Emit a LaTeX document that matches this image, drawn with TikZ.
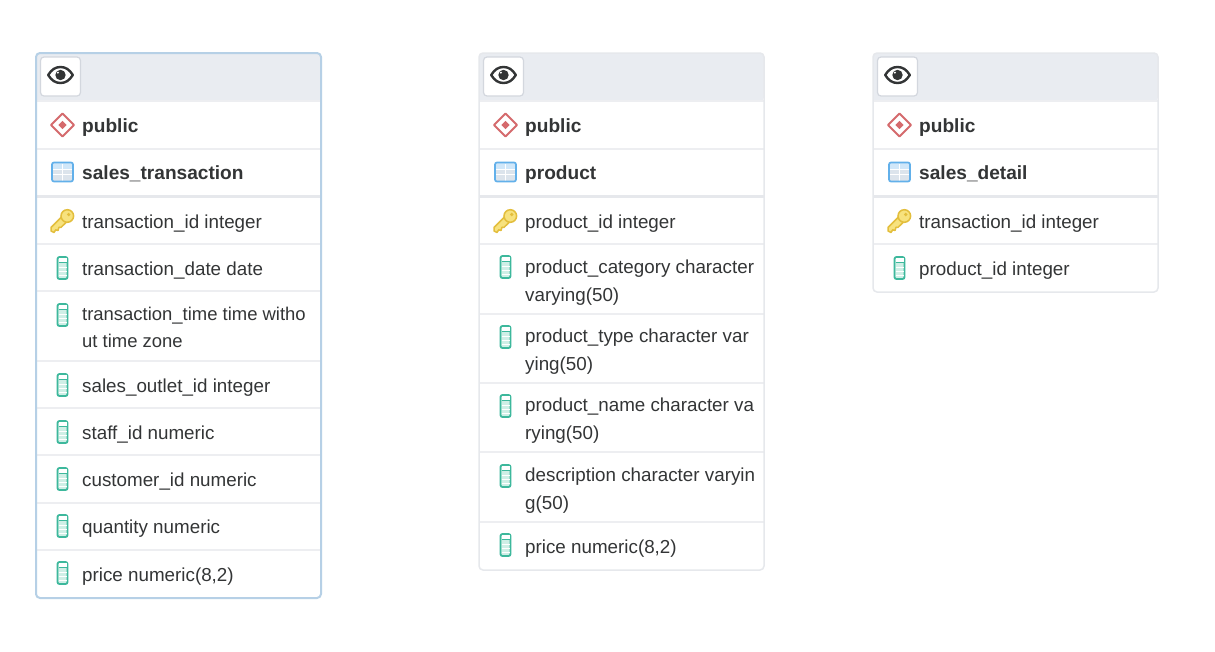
\documentclass[tikz,border=0pt]{standalone}
\usepackage{fontspec}
\setmainfont{Liberation Sans}
\definecolor{headfill}{HTML}{E9ECF1}
\definecolor{rowline}{HTML}{EDEEF1}
\definecolor{thickline}{HTML}{E6E8EC}
\definecolor{selblue}{HTML}{B6D0E6}
\definecolor{plainb}{HTML}{E6E8EC}
\definecolor{btnb}{HTML}{D3D7DE}
\definecolor{ink}{HTML}{333536}
\definecolor{schemared}{HTML}{D56A6D}
\definecolor{tabblue}{HTML}{62B0EA}
\definecolor{tabfill}{HTML}{DCE4EC}
\definecolor{keyfill}{HTML}{F7E27E}
\definecolor{keyline}{HTML}{E3BE3C}
\definecolor{colgreen}{HTML}{3DB89C}
\definecolor{colfill}{HTML}{CFEFE6}
\tikzset{
  x=1pt,y=-1pt,
  tablebox/.style={draw=plainb,line width=1.5pt,rounded corners=4pt,minimum width=285pt,inner sep=0pt,outer sep=0pt,anchor=north west},
  selbox/.style={tablebox,draw=selblue,line width=2pt},
  rowtext/.style={anchor=base west,inner sep=0pt,text=ink,align=left,font=\fontsize{18.8}{27.5}\selectfont},
  tighttext/.style={rowtext,font=\fontsize{18.45}{27.5}\selectfont},
  headtext/.style={rowtext,font=\fontsize{19.1}{27.5}\selectfont\bfseries},
  sep/.style={draw=rowline,line width=2pt},
  thicksep/.style={draw=thickline,line width=3pt},
  eyebtn/.style={draw=btnb,fill=white,line width=1.2pt,rounded corners=3.5pt,minimum width=40pt,minimum height=39pt,inner sep=0pt,outer sep=0pt},
  pics/eye/.style={code={
    \draw[ink,line width=2.4pt,fill=white,line join=round] (-12.3,0) .. controls (-9,-5.5) and (-5,-8) .. (0,-8) .. controls (5,-8) and (9,-5.5) .. (12.3,0) .. controls (9,5.5) and (5,8) .. (0,8) .. controls (-5,8) and (-9,5.5) .. (-12.3,0) -- cycle;
    \fill[ink] (0,0) circle (5.2);
    \fill[white] (-2.6,-2.4) circle (1.1);
  }},
  pics/schemaicon/.style={code={
    \draw[schemared,line width=1.8pt,fill=white,line join=round] (0,-11.5) -- (11.5,0) -- (0,11.5) -- (-11.5,0) -- cycle;
    \fill[schemared] (0,-4.2) -- (4.2,0) -- (0,4.2) -- (-4.2,0) -- cycle;
  }},
  pics/tableicon/.style={code={
    \fill[tabfill] (-10,-9) rectangle (10,9);
    \fill[tabblue!30] (-10,-9) rectangle (10,-3.5);
    \draw[white,line width=1pt] (0,-8) -- (0,8.5) (-10,-3) -- (10,-3) (-10,2.8) -- (10,2.8);
    \draw[tabblue,line width=1.7pt,rounded corners=2pt] (-10.5,-9.5) rectangle (10.5,9.5);
  }},
  pics/keyicon/.style={code={
    \draw[keyline,line width=1.5pt,fill=keyfill,line join=round]
      (0,-5) -- (-11.5,6.5) -- (-11.5,10) -- (-8.5,11.5) -- (-6.8,8.8) -- (-4.5,9.5) -- (-3.5,6.2) -- (-1.5,6.4) -- (6,-1) -- cycle;
    \draw[keyline,line width=1.5pt,fill=keyfill] (4.8,-5) circle (6.3);
    \fill[keyline] (6.2,-6.5) circle (1.8);
  }},
  pics/colicon/.style={code={
    \draw[colgreen,line width=1.8pt,fill=colfill,rounded corners=2pt] (-5,-11) rectangle (5,11);
    \fill[white] (-4,-10) rectangle (4,-5.5);
    \draw[colgreen,line width=1.1pt] (-4,-5.2) -- (4,-5.2);
    \draw[white,line width=1pt] (-4,-1) -- (4,-1) (-4,3) -- (4,3) (-4,7) -- (4,7);
  }},
}
% #1 table x, #2 row centre y, #3 name, #4 icon, #5 text style, #6 baseline y of the last line, #7 text
\newcommand{\rowitem}[7]{%
  \pic (#3i) at (#1+26.5,#2) {#4};
  \node[#5] (#3) at (#1+46,#6) {#7};
}
\begin{document}
\begin{tikzpicture}
\useasboundingbox (0,0) rectangle (1215,651);
\fill[white] (0,0) rectangle (1215,651);

% ---------- table 1
\fill[headfill,rounded corners=4pt] (36,53) -- (321,53) -- (321,101) -- (36,101) -- cycle;
\draw[sep] (36,149) -- (321,149) (36,244) -- (321,244) (36,291) -- (321,291)
  (36,361) -- (321,361) (36,408) -- (321,408) (36,455) -- (321,455) (36,503) -- (321,503) (36,550) -- (321,550);
\draw[sep] (36,101) -- (321,101);
\draw[thicksep] (36,196.5) -- (321,196.5);
\node[selbox,minimum height=545pt] (t1) at (36,53) {};
\node[eyebtn] (b1) at (60.5,76.5) {};
\pic at (60.5,75) {eye};
\rowitem{36}{125}{a1}{schemaicon}{headtext}{132.5}{public}
\rowitem{36}{172}{a2}{tableicon}{headtext}{179.5}{sales\_transaction}
\rowitem{36}{221}{a3}{keyicon}{rowtext}{228.5}{transaction\_id integer}
\rowitem{36}{268}{a4}{colicon}{rowtext}{275.5}{transaction\_date date}
\rowitem{36}{315}{a5}{colicon}{tighttext}{347.5}{transaction\_time time witho\\ut time zone}
\rowitem{36}{385}{a6}{colicon}{rowtext}{392.5}{sales\_outlet\_id integer}
\rowitem{36}{432}{a7}{colicon}{rowtext}{439.5}{staff\_id numeric}
\rowitem{36}{479}{a8}{colicon}{rowtext}{486.5}{customer\_id numeric}
\rowitem{36}{526}{a9}{colicon}{rowtext}{533.5}{quantity numeric}
\rowitem{36}{573}{a10}{colicon}{rowtext}{581}{price numeric(8,2)}

% ---------- table 2
\fill[headfill,rounded corners=4pt] (479,53) -- (764,53) -- (764,101) -- (479,101) -- cycle;
\draw[sep] (479,101) -- (764,101) (479,149) -- (764,149) (479,244) -- (764,244) (479,314) -- (764,314)
  (479,383) -- (764,383) (479,452) -- (764,452) (479,522) -- (764,522);
\draw[thicksep] (479,196.5) -- (764,196.5);
\node[tablebox,minimum height=517pt] (t2) at (479,53) {};
\node[eyebtn] (b2) at (503.5,76.5) {};
\pic at (503.5,75) {eye};
\rowitem{479}{125}{c1}{schemaicon}{headtext}{132.5}{public}
\rowitem{479}{172}{c2}{tableicon}{headtext}{179.5}{product}
\rowitem{479}{221}{c3}{keyicon}{rowtext}{228.5}{product\_id integer}
\rowitem{479}{267}{c4}{colicon}{rowtext}{301}{product\_category character\\varying(50)}
\rowitem{479}{337}{c5}{colicon}{rowtext}{370}{product\_type character var\\ying(50)}
\rowitem{479}{406}{c6}{colicon}{rowtext}{439}{product\_name character va\\rying(50)}
\rowitem{479}{476}{c7}{colicon}{rowtext}{509}{description character varyin\\g(50)}
\rowitem{479}{545}{c8}{colicon}{rowtext}{553.5}{price numeric(8,2)}

% ---------- table 3
\fill[headfill,rounded corners=4pt] (873,53) -- (1158,53) -- (1158,101) -- (873,101) -- cycle;
\draw[sep] (873,101) -- (1158,101) (873,149) -- (1158,149) (873,244) -- (1158,244);
\draw[thicksep] (873,196.5) -- (1158,196.5);
\node[tablebox,minimum height=239pt] (t3) at (873,53) {};
\node[eyebtn] (b3) at (897.5,76.5) {};
\pic at (897.5,75) {eye};
\rowitem{873}{125}{d1}{schemaicon}{headtext}{132.5}{public}
\rowitem{873}{172}{d2}{tableicon}{headtext}{179.5}{sales\_detail}
\rowitem{873}{221}{d3}{keyicon}{rowtext}{228.5}{transaction\_id integer}
\rowitem{873}{268}{d4}{colicon}{rowtext}{275.5}{product\_id integer}
\end{tikzpicture}
\end{document}
